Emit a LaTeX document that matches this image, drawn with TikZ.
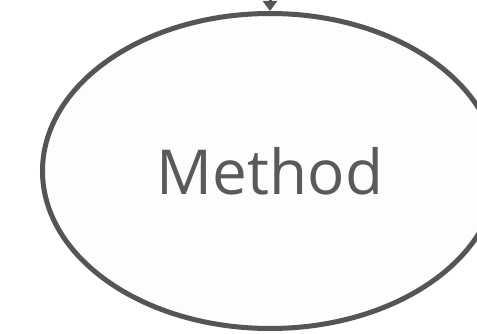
\documentclass[tikz,border=0pt]{standalone}
\usepackage{fontspec}
\setmainfont{Open Sans}
\usetikzlibrary{shapes.geometric,arrows.meta}
\definecolor{linegray}{HTML}{555555}
\definecolor{textgray}{HTML}{5A5A5A}
\definecolor{fillwhite}{HTML}{FDFDFD}
\begin{document}
\begin{tikzpicture}[
     x=1pt, y=1pt,
     % define styles
     method/.style={
         ellipse,
         draw=linegray,
         fill=fillwhite,
         line width=5pt,
         minimum width=455pt,
         minimum height=315pt,
         inner sep=0pt,
         text=textgray,
         font=\fontsize{62}{62}\selectfont
     },
     >={Triangle[width=14pt,length=10pt]}
]
% page frame, cuts the ellipse at the right and bottom
\clip (0,0) rectangle (477,-334);
\fill[white] (0,0) rectangle (477,-334);

% the node
\node[method] (meth) at (270,-171) {\raisebox{-3pt}{Method}};

% incoming connector from above
\coordinate (src) at (270,40);
\draw[->, draw=linegray, fill=linegray, line width=3pt] (src) -- (meth);

\end{tikzpicture}
\end{document}
